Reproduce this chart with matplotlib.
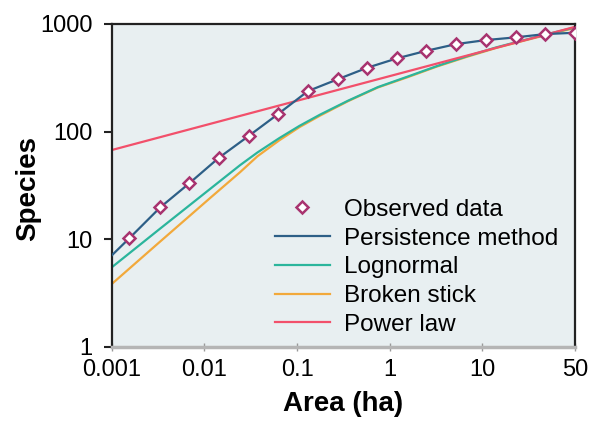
import numpy as np
import matplotlib
matplotlib.use('Agg')
import matplotlib.pyplot as plt

plt.rcParams['font.family'] = ['Liberation Sans', 'DejaVu Sans']

# observed species counts for nested plots (ha)
area_obs = [0.0015, 0.0031, 0.0061, 0.0122, 0.0244, 0.0488, 0.0977, 0.195,
            0.39, 0.78, 1.56, 3.13, 6.25, 12.5, 25, 50]
species_obs = [10.2, 19.8, 33.1, 57.2, 91, 146, 238, 306,
               392, 479, 564, 651, 709, 751, 806, 829]

# fitted curves
area_persist = [0.001, 0.0015, 0.0031, 0.0061, 0.0122, 0.0244, 0.0488, 0.0977, 0.195,
                0.39, 0.78, 1.56, 3.13, 6.25, 12.5, 25, 50]
species_persist = [7.1, 10.2, 19.8, 33.1, 57.2, 91, 146, 238, 306,
                   392, 479, 564, 651, 709, 751, 806, 829]

area_model = [0.001, 0.003, 0.01, 0.02, 0.03, 0.05, 0.08, 0.13, 0.25,
              0.5, 1, 2, 4, 8, 16, 32, 50]
species_lognormal = [5.5, 12.3, 29.5, 48.8, 64, 87, 113, 144, 194,
                     259, 324, 407, 501, 607, 716, 841, 929]
species_broken = [3.85, 9.3, 24.3, 42, 59, 83, 110, 141, 192,
                  257, 320, 403, 495, 600, 708, 832, 918]

area_power = [0.001, 50]
species_power = [67.5, 940]

xtick_labels = ['0.001', '0.01', '0.1', '1', '10', '50']
ytick_vals = [1, 10, 100, 1000]
ytick_labels = ['1', '10', '100', '1000']

fig = plt.figure(figsize=(5.92, 4.21), dpi=100)
ax = fig.add_axes([0.189, 0.176, 0.782, 0.767])
ax.set_facecolor('#e8eff1')

ax.plot(area_persist, species_persist, color='#2d5f87', lw=1.6, label='Persistence method', zorder=3)
ax.plot(area_model, species_lognormal, color='#2bb59c', lw=1.6, label='Lognormal', zorder=2)
ax.plot(area_model, species_broken, color='#f2a93b', lw=1.6, label='Broken stick', zorder=1)
ax.plot(area_power, species_power, color='#f2506b', lw=1.6, label='Power law', zorder=2)
ax.plot(area_obs, species_obs, ls='none', marker='D', markersize=5.8, mfc='white',
        mec='#a8336f', mew=1.8, label='Observed data', zorder=4)

ax.set_xscale('log')
ax.set_yscale('log')
ax.set_xlim(0.001, 50)
ax.set_ylim(1, 1000)

# tick labels sit evenly across the axis in the original
ax.set_xticks(10 ** np.linspace(-3, np.log10(50), 6))
ax.set_xticklabels(xtick_labels)
ax.set_yticks(ytick_vals)
ax.set_yticklabels(ytick_labels)
ax.minorticks_off()

ax.tick_params(axis='x', direction='inout', length=6, width=1, color='#999999',
               labelsize=17, pad=6)
ax.tick_params(axis='y', direction='out', length=6, width=1.5, color='#222222',
               labelsize=17, pad=8)

for s in ['left', 'top', 'right']:
    ax.spines[s].set_color('#222222')
    ax.spines[s].set_linewidth(1.6)
ax.spines['bottom'].set_color('#b5b5b5')
ax.spines['bottom'].set_linewidth(2.5)

ax.set_xlabel('Area (ha)', fontsize=20, fontweight='bold', labelpad=7)
ax.set_ylabel('Species', fontsize=20, fontweight='bold')
ax.yaxis.set_label_coords(-0.152, 0.49)

handles, labels = ax.get_legend_handles_labels()
order = [4, 0, 1, 2, 3]
ax.legend([handles[i] for i in order], [labels[i] for i in order],
          loc='lower right', bbox_to_anchor=(0.988, 0.0), frameon=False, fontsize=17.5,
          handlelength=2.25, handletextpad=0.6, labelspacing=0.28, numpoints=1,
          borderaxespad=0.05)

plt.savefig('out.png', dpi=100)
